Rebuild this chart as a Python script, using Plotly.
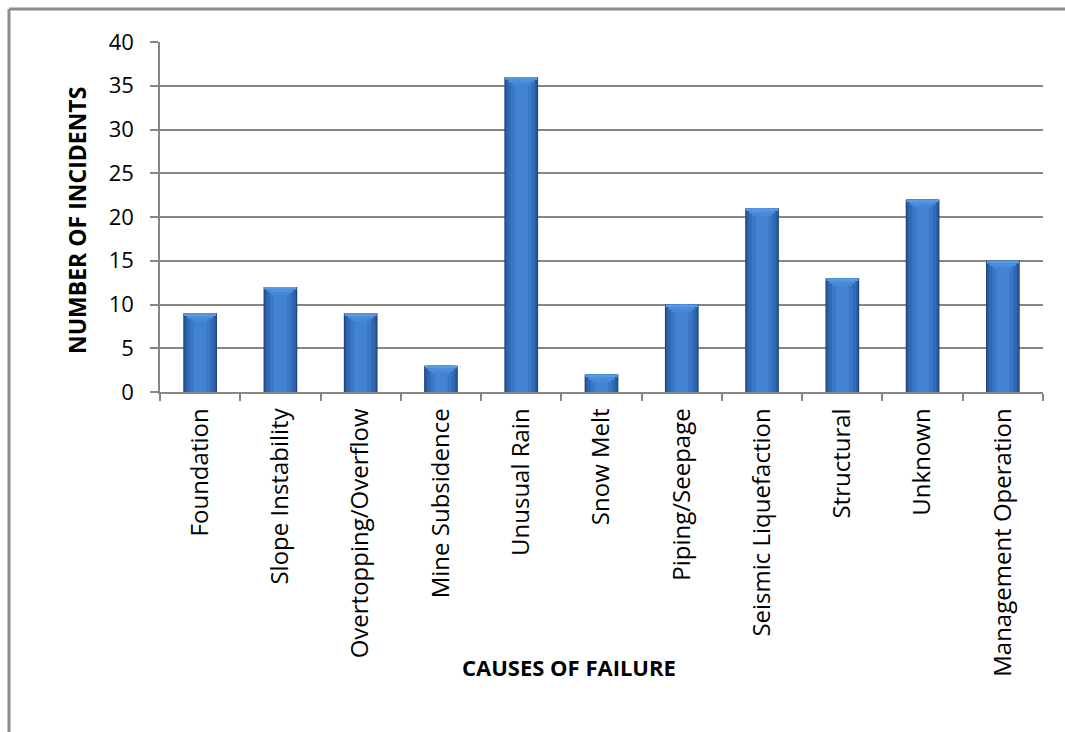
import plotly.graph_objects as go

# Failure causes and the number of recorded incidents for each
causes = ["Foundation", "Slope Instability", "Overtopping/Overflow", "Mine Subsidence",
          "Unusual Rain", "Snow Melt", "Piping/Seepage", "Seismic Liquefaction",
          "Structural", "Unknown", "Management Operation"]
incidents = [9, 12, 9, 3, 36, 2, 10, 21, 13, 22, 15]

y_ticks = [0, 5, 10, 15, 20, 25, 30, 35, 40]

FONT = "Open Sans"
GRID = "#868686"

fig = go.Figure()

# Layered bars of decreasing width give the shaded column look
layers = [
    (0.42, "#1d4479"),
    (0.39, "#2a5da3"),
    (0.34, "#3169b5"),
    (0.26, "#3a77c6"),
    (0.16, "#4384d2"),
]
for w, c in layers:
    fig.add_trace(go.Bar(
        x=causes, y=incidents, width=w,
        marker=dict(color=c, line=dict(width=0)),
        hoverinfo="skip", showlegend=False,
    ))

# Lighter stepped cap at the top of each column (bevel highlight)
cap = 0.3
for i, (w, c) in enumerate([(0.40, "#5a9ae4"), (0.32, "#4f8fdc"), (0.24, "#4588d6")]):
    fig.add_trace(go.Bar(
        x=causes, y=[cap] * len(incidents),
        base=[v - cap * (i + 1) for v in incidents], width=w,
        marker=dict(color=c, line=dict(width=0)),
        hoverinfo="skip", showlegend=False,
    ))

fig.update_layout(
    width=1065, height=732,
    margin=dict(l=160, r=22, t=42, b=340),
    paper_bgcolor="white", plot_bgcolor="white",
    barmode="overlay",
    font=dict(family=FONT, color="black"),
    showlegend=False,
    xaxis=dict(
        type="category",
        tickangle=-90,
        tickfont=dict(size=24, family=FONT),
        ticks="outside", ticklen=7, tickwidth=1.5, tickcolor=GRID,
        tickson="boundaries",
        showline=True, linecolor=GRID, linewidth=1.5,
        showgrid=False,
        ticklabelstandoff=5,
    ),
    yaxis=dict(
        range=[0, 40],
        tickvals=y_ticks,
        tickfont=dict(size=22, family=FONT),
        ticks="outside", ticklen=8, tickwidth=1.5, tickcolor=GRID,
        showline=True, linecolor=GRID, linewidth=1.5,
        showgrid=True, gridcolor=GRID, gridwidth=1.5,
        zeroline=False,
        ticklabelstandoff=12,
    ),
    annotations=[
        dict(text="<b>NUMBER OF INCIDENTS</b>", textangle=-90,
             xref="paper", yref="paper", x=(77 - 160) / 883, y=(392 - 221) / 350,
             showarrow=False, font=dict(size=23, family=FONT),
             xanchor="center", yanchor="middle"),
        dict(text="<b>CAUSES OF FAILURE</b>",
             xref="paper", yref="paper", x=(569 - 160) / 883, y=(392 - 667) / 350,
             showarrow=False, font=dict(size=22, family=FONT),
             xanchor="center", yanchor="middle"),
    ],
    shapes=[
        # outer chart frame (left and top edges)
        dict(type="line", xref="paper", yref="paper",
             x0=(9 - 160) / 883, x1=(9 - 160) / 883,
             y0=(392 - 740) / 350, y1=(392 - 9) / 350,
             line=dict(color="#8c8c8c", width=3)),
        dict(type="line", xref="paper", yref="paper",
             x0=(9 - 160) / 883, x1=(1070 - 160) / 883,
             y0=(392 - 9) / 350, y1=(392 - 9) / 350,
             line=dict(color="#8c8c8c", width=3)),
    ],
)

fig.write_html("out.html")
